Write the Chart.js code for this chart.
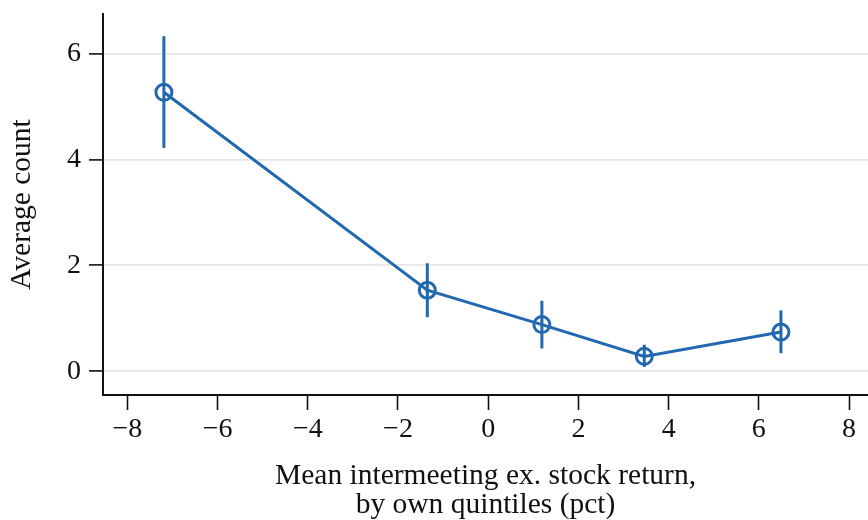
<!DOCTYPE html>
<html>
<head>
<meta charset="utf-8">
<script src="https://cdn.jsdelivr.net/npm/chart.js@4.4.1/dist/chart.umd.min.js"></script>
<style>
  html, body { margin: 0; padding: 0; background: #ffffff; }
  #wrap { width: 868px; height: 520px; }
</style>
</head>
<body>
<div id="wrap"><canvas id="c" width="868" height="520"></canvas></div>
<script>
// Quintile means of the intermeeting excess stock return (pct)
const xValues = [-7.19, -1.35, 1.19, 3.46, 6.49];
// Average count in each quintile, with its confidence band
const yValues = [5.27, 1.53, 0.88, 0.28, 0.74];
const yLow    = [4.22, 1.02, 0.43, 0.08, 0.34];
const yHigh   = [6.33, 2.04, 1.33, 0.50, 1.15];

const xTicks = [-8, -6, -4, -2, 0, 2, 4, 6, 8];
const yTicks = [0, 2, 4, 6];

const xTitle = ['Mean intermeeting ex. stock return,', 'by own quintiles (pct)'];
const yTitle = 'Average count';

const blue = 'rgb(34,104,176)';
const ink = '#111111';
const serif = "'Liberation Serif', 'Times New Roman', serif";

// One short vertical segment per quintile for the interval
const intervalSets = xValues.map((x, i) => ({
  type: 'line',
  data: [{ x: x, y: yLow[i] }, { x: x, y: yHigh[i] }],
  borderColor: blue,
  borderWidth: 3,
  pointRadius: 0,
  pointHoverRadius: 0,
  fill: false
}));

const meanSet = {
  type: 'line',
  data: xValues.map((x, i) => ({ x: x, y: yValues[i] })),
  borderColor: blue,
  borderWidth: 3,
  pointStyle: 'circle',
  pointRadius: 8,
  pointBorderWidth: 3,
  pointBorderColor: blue,
  pointBackgroundColor: 'rgba(0,0,0,0)',
  tension: 0,
  fill: false
};

const whiteBg = {
  id: 'whiteBg',
  beforeDraw(chart) {
    const ctx = chart.ctx;
    ctx.save();
    ctx.fillStyle = '#ffffff';
    ctx.fillRect(0, 0, chart.width, chart.height);
    ctx.restore();
  }
};

new Chart(document.getElementById('c'), {
  type: 'line',
  data: { datasets: [...intervalSets, meanSet] },
  plugins: [whiteBg],
  options: {
    responsive: false,
    animation: false,
    devicePixelRatio: 1,
    layout: { autoPadding: false, padding: { top: 14, right: 0, left: 0, bottom: 0 } },
    plugins: { legend: { display: false }, tooltip: { enabled: false } },
    scales: {
      x: {
        type: 'linear',
        min: -8.54,
        max: 8.42,
        afterBuildTicks(scale) { scale.ticks = xTicks.map(v => ({ value: v })); },
        afterFit(scale) {
          scale.height = 125;
          scale.paddingLeft = 0;
          scale.paddingRight = 0;
        },
        border: { display: true, color: ink, width: 2 },
        grid: { drawOnChartArea: false, drawTicks: true, tickLength: 15, tickColor: ink, tickWidth: 1.6 },
        ticks: {
          color: ink,
          padding: 3,
          maxRotation: 0,
          autoSkip: false,
          font: { family: serif, size: 28 },
          callback: (v) => String(v).replace('-', '\u2212')
        },
        title: {
          display: true,
          text: xTitle,
          color: ink,
          font: { family: serif, size: 29.5, lineHeight: 1.0 },
          padding: { top: 11, bottom: 0 }
        }
      },
      y: {
        type: 'linear',
        min: -0.45,
        max: 6.75,
        afterBuildTicks(scale) { scale.ticks = yTicks.map(v => ({ value: v })); },
        afterFit(scale) {
          scale.width = 103;
          scale.paddingTop = 0;
          scale.paddingBottom = 0;
        },
        border: { display: true, color: ink, width: 2 },
        grid: { color: '#e6e6e6', lineWidth: 1.8, drawTicks: true, tickLength: 14, tickColor: ink, tickWidth: 1.6 },
        ticks: {
          color: ink,
          padding: 8,
          font: { family: serif, size: 28 },
          callback: (v) => String(v)
        },
        title: {
          display: true,
          text: yTitle,
          color: ink,
          font: { family: serif, size: 29.5 },
          padding: { top: 5, bottom: 2 }
        }
      }
    }
  }
});
</script>
</body>
</html>
